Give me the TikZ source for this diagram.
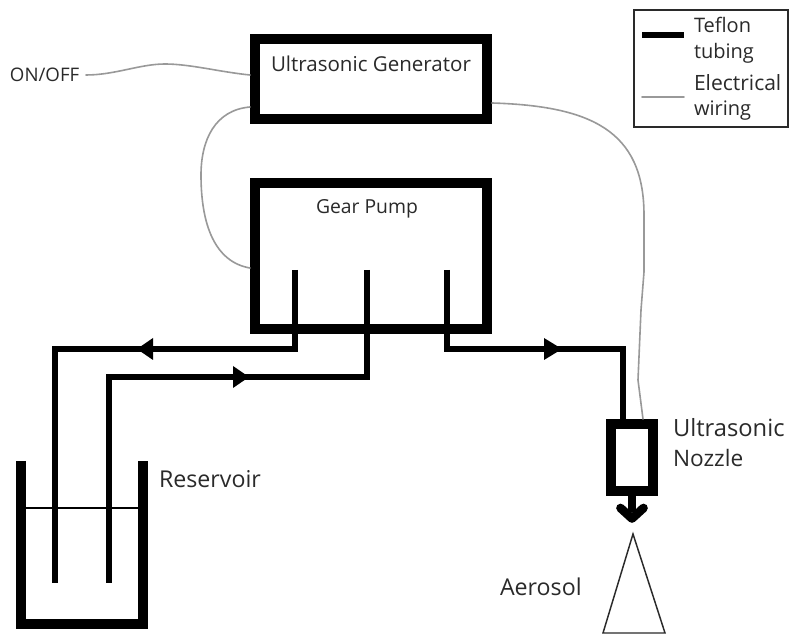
\documentclass[tikz,border=0pt]{standalone}
\usepackage{fontspec}
\setmainfont{Open Sans}
\usetikzlibrary{arrows.meta}
\definecolor{wiregrey}{HTML}{999999}
\definecolor{inkdark}{HTML}{2A2A2A}
\newcommand{\lblsize}[1]{\fontsize{#1pt}{#1pt}\selectfont}
\tikzset{
  heavybox/.style={draw=black,line width=7.5pt,fill=none,rectangle,inner sep=0pt,outer sep=0pt,anchor=north west,miter limit=10},
  tube/.style={draw=black,line width=4.5pt,miter limit=10},
  wire/.style={draw=wiregrey,line width=1.2pt,line cap=round},
  label/.style={inner sep=0pt,outer sep=0pt,anchor=base west,text=inkdark},
  headL/.style={fill=black,draw=none},
}
\begin{document}
\begin{tikzpicture}[x=0.75pt,y=-0.75pt]
\useasboundingbox (0,0) rectangle (790,634);
\fill[white] (0,0) rectangle (790,634);

% Main boxes
\node[heavybox,minimum width=174pt,minimum height=60pt] (gen) at (255,39) {};
\node[heavybox,minimum width=174pt,minimum height=109.5pt] (pump) at (255,183) {};
\node[heavybox,minimum width=31.5pt,minimum height=50.25pt] (nozzle) at (611,424) {};

% Coordinates for the ports and bends
\coordinate (pa) at (295,270);
\coordinate (pb) at (367,270);
\coordinate (pc) at (447,270);
\coordinate (ra) at (55,583);
\coordinate (rb) at (109,583);
\coordinate (nin) at (623,419);
\coordinate (onoffend) at (86,75);
\coordinate (genL1) at (250,75);
\coordinate (genL2) at (250,107);
\coordinate (pumpL) at (250,268);
\coordinate (genR) at (492,103);
\coordinate (nozW) at (643,419);

% Teflon tubing
\draw[tube] (pa) |- (ra |- 0,349) -- (ra);
\draw[tube] (pb) |- (rb |- 0,377) -- (rb);
\draw[tube] (pc) |- (nin |- 0,349) -- (nin);

% Flow arrowheads
\fill[headL] (137,349) -- (153,338) -- (153,360) -- cycle;
\fill[headL] (249,377) -- (233,366) -- (233,388) -- cycle;
\fill[headL] (562,349) -- (544,338) -- (544,360) -- cycle;

% Reservoir
\draw[black,line width=7.5pt,miter limit=10] (21,461) -- (21,624) -- (143,624) -- (143,461);
\draw[black,line width=1pt] (26,508) -- (138,508);

% Nozzle jet
\draw[black,line width=6.5pt] (nozzle.south) ++(0,3) -- ++(0,18);
\draw[black,line width=6.5pt,line cap=round,line join=round] (620.5,508) -- (632,518.5) -- (643.5,508);

% Aerosol cone
\draw[inkdark,line width=1.1pt,line join=miter] (633,534) -- (603,633) -- (665,633) -- cycle;

% Wires
\draw[wire] (onoffend) .. controls (115,75) and (140,64) .. (165,64) .. controls (190,64) and (220,72) .. (genL1);
\draw[wire] (genL2) .. controls (215,110) and (201,140) .. (201,175) .. controls (201,225) and (215,262) .. (pumpL);
\draw[wire] (genR) .. controls (590,106) and (644,130) .. (644,215) -- (644,272) -- (641,310) -- (638,380) -- (nozW);

% Legend
\node[draw=inkdark,line width=1.5pt,rectangle,inner sep=0pt,outer sep=0pt,anchor=north west,minimum width=115.5pt,minimum height=87.75pt] (legend) at (634,10) {};
\coordinate (lta) at (642,35); \coordinate (ltb) at (684,35);
\coordinate (lwa) at (642,97); \coordinate (lwb) at (684,97);
\draw[tube] (lta) -- (ltb);
\draw[wire] (lwa) -- (lwb);

% Labels
\node[label,font=\lblsize{15.4}] (tgen) at (271,72) {Ultrasonic Generator};
\node[label,font=\lblsize{14.5}] (tpump) at (316,214) {Gear Pump};
\node[label,font=\lblsize{14}] (tonoff) at (10,82) {ON/OFF};
\node[label,font=\lblsize{17.4}] (tres) at (159,487.5) {Reservoir};
\node[label,font=\lblsize{17.8}] (tnoz1) at (673,437) {Ultrasonic};
\node[label,font=\lblsize{17}] (tnoz2) at (673,467) {Nozzle};
\node[label,font=\lblsize{17.4}] (taer) at (500,595.5) {Aerosol};
\node[label,font=\lblsize{15}] (tl1) at (694,33) {Teflon};
\node[label,font=\lblsize{15}] (tl2) at (694,59) {tubing};
\node[label,font=\lblsize{15.8}] (tl3) at (694,91) {Electrical};
\node[label,font=\lblsize{15}] (tl4) at (694,116) {wiring};
\end{tikzpicture}
\end{document}
